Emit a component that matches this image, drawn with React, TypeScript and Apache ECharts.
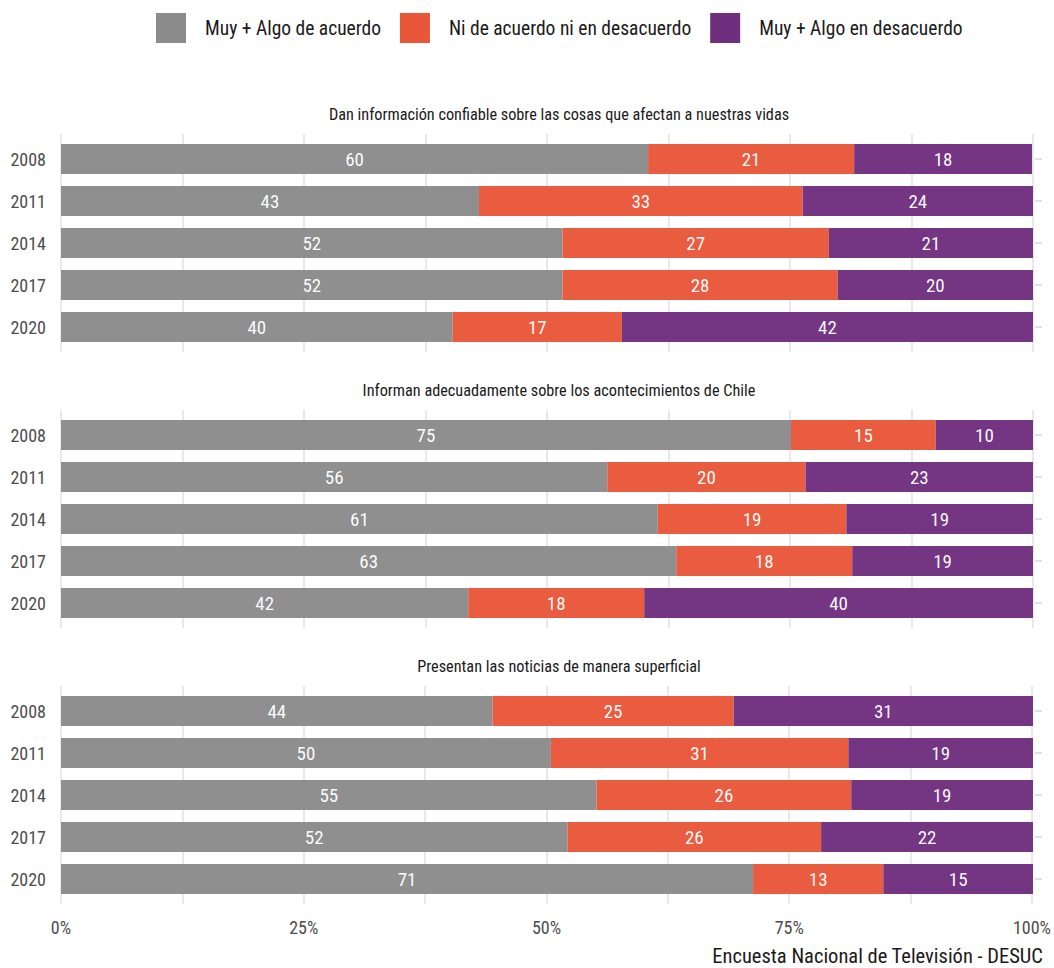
import React, { useEffect, useRef } from "react";
import * as echarts from "echarts";

const years = ["2008", "2011", "2014", "2017", "2020"];
const panelTitles = [
  "Dan información confiable sobre las cosas que afectan a nuestras vidas",
  "Informan adecuadamente sobre los acontecimientos de Chile",
  "Presentan las noticias de manera superficial",
];
const seriesNames = [
  "Muy + Algo de acuerdo",
  "Ni de acuerdo ni en desacuerdo",
  "Muy + Algo en desacuerdo",
];
const colors = ["#8b8b8b", "#e9573a", "#702f7e"];
const xTicks = [0, 25, 50, 75, 100];

const p1Agree = [60.4, 43.0, 51.6, 51.6, 40.3];
const p1Neutral = [21.2, 33.3, 27.4, 28.3, 17.4];
const p1Disagree = [18.3, 23.7, 21.0, 20.1, 42.3];
const p2Agree = [75.1, 56.2, 61.4, 63.3, 41.9];
const p2Neutral = [14.9, 20.4, 19.4, 18.1, 18.1];
const p2Disagree = [10.0, 23.4, 19.2, 18.6, 40.0];
const p3Agree = [44.4, 50.4, 55.1, 52.1, 71.2];
const p3Neutral = [24.8, 30.6, 26.2, 26.1, 13.4];
const p3Disagree = [30.8, 19.0, 18.7, 21.8, 15.4];

const panels = [
  [p1Agree, p1Neutral, p1Disagree],
  [p2Agree, p2Neutral, p2Disagree],
  [p3Agree, p3Neutral, p3Disagree],
];

const FONT = "'Roboto Condensed', 'Liberation Sans Narrow', Roboto, sans-serif";

export default function App() {
  const ref = useRef<HTMLDivElement>(null);
  useEffect(() => {
    document.body.style.margin = "0";
    const chart = echarts.init(ref.current!, null, { renderer: "svg" });
    const PLOT_L = 61;
    const PLOT_R = 1054 - 1033;
    const STEP = 276;
    const grids: any[] = [];
    const xAxes: any[] = [];
    const yAxes: any[] = [];
    const series: any[] = [];
    const graphics: any[] = [];

    for (let p = 0; p < 3; p++) {
      grids.push({ left: PLOT_L, right: PLOT_R, top: 138 + STEP * p, height: 210 });
    }
    for (let p = 0; p < 3; p++) {
      grids.push({ left: PLOT_L, right: PLOT_R, top: 134 + STEP * p, height: 218 });
    }
    for (let p = 0; p < 3; p++) {
      xAxes.push({ gridIndex: p, type: "value", min: 0, max: 100, show: false });
    }
    for (let p = 0; p < 3; p++) {
      xAxes.push({
        gridIndex: 3 + p,
        type: "value",
        min: 0,
        max: 100,
        interval: 12.5,
        axisLine: { show: false },
        axisTick: { show: false },
        splitLine: { show: true, lineStyle: { color: "#e2e2e2", width: 1.5 } },
        axisLabel: {
          show: p === 2,
          margin: 14,
          fontFamily: FONT,
          fontSize: 18,
          color: "#4d4d4d",
          showMinLabel: true,
          showMaxLabel: true,
          formatter: (v: number) => (xTicks.indexOf(v) >= 0 ? v + "%" : ""),
        },
      });
    }
    for (let p = 0; p < 3; p++) {
      yAxes.push({
        gridIndex: p,
        type: "category",
        data: years,
        inverse: true,
        axisLine: { show: false },
        axisTick: { show: false },
        splitLine: { show: false },
        axisLabel: { margin: 15, fontFamily: FONT, fontSize: 18, color: "#4d4d4d" },
      });
    }
    for (let p = 0; p < 3; p++) {
      yAxes.push({
        gridIndex: p,
        type: "category",
        data: years,
        inverse: true,
        position: "right",
        offset: 2,
        axisLine: { show: false },
        axisTick: { show: true, alignWithLabel: true, length: 7, lineStyle: { color: "#d6d6d6", width: 1.5 } },
        axisLabel: { show: false },
        splitLine: { show: false },
      });
    }
    for (let p = 0; p < 3; p++) {
      yAxes.push({ gridIndex: 3 + p, type: "value", show: false, min: 0, max: 1 });
    }

    panels.forEach((panel, p) => {
      panel.forEach((vals, k) => {
        series.push({
          name: seriesNames[k],
          type: "bar",
          stack: "panel" + p,
          xAxisIndex: p,
          yAxisIndex: p,
          barWidth: 30,
          data: vals,
          itemStyle: { color: colors[k], opacity: 0.97 },
          label: {
            show: true,
            position: "inside",
            color: "#ffffff",
            fontFamily: FONT,
            fontSize: 19,
            formatter: (d: any) => String(Math.round(d.value)),
          },
        });
      });
      graphics.push({
        type: "text",
        x: 559,
        y: 114 + STEP * p,
        style: {
          text: panelTitles[p],
          textAlign: "center",
          textVerticalAlign: "middle",
          fontFamily: FONT,
          fontSize: 16.25,
          fill: "#1a1a1a",
        },
      });
    });

    graphics.push({
      type: "text",
      x: 1043,
      y: 956,
      style: {
        text: "Encuesta Nacional de Televisión - DESUC",
        textAlign: "right",
        textVerticalAlign: "middle",
        fontFamily: FONT,
        fontSize: 20.5,
        fill: "#1a1a1a",
      },
    });

    chart.setOption({
      animation: false,
      backgroundColor: "#ffffff",
      color: colors,
      legend: {
        data: seriesNames,
        left: 151,
        top: 8,
        itemWidth: 30,
        itemHeight: 30,
        itemGap: 19,
        icon: "rect",
        itemStyle: { opacity: 1 },
        textStyle: { fontFamily: FONT, fontSize: 19.5, color: "#1a1a1a", padding: [0, 0, 0, 14] },
      },
      grid: grids,
      xAxis: xAxes,
      yAxis: yAxes,
      series,
      graphic: graphics,
    });
    return () => chart.dispose();
  }, []);
  return <div ref={ref} style={{ width: 1054, height: 968 }} />;
}
